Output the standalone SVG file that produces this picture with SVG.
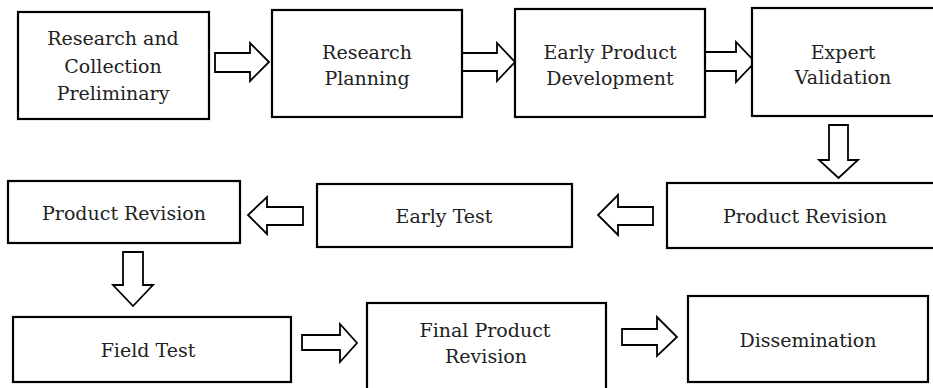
<svg xmlns="http://www.w3.org/2000/svg" width="933" height="388" viewBox="0 0 933 388">
<style>
.box{fill:#fff;stroke:#000;stroke-width:2.2}
.arr{fill:#fff;stroke:#000;stroke-width:1.8;stroke-linejoin:miter}
.t{font-family:'DejaVu Serif','Liberation Serif',serif;font-size:19px;fill:#222;text-anchor:middle}
</style>
<rect width="933" height="388" fill="#fff"/>
<g id="connectors">
<polygon class="arr" points="215,53 250,53 250,43 269,62 250,81 250,72 215,72"/>
<polygon class="arr" points="462,53 497,53 497,43 515,62 497,81 497,71 462,71"/>
<polygon class="arr" points="705,52 736,52 736,42 755,62 736,82 736,71 705,71"/>
<rect x="702" y="52" width="4" height="19" fill="#000"/>
<polygon class="arr" points="829,125 848,125 848,160 858,160 838.5,178 819,160 829,160"/>
<polygon class="arr" points="653,207 618,207 618,195 598,215 618,235 618,225 653,225"/>
<polygon class="arr" points="303,207 267,207 267,197 248,215 267,234 267,225 303,225"/>
<polygon class="arr" points="123,252 143,252 143,285 153,285 133,306 113,285 123,285"/>
<polygon class="arr" points="302,335 340,335 340,324 357,343 340,362 340,350 302,350"/>
<polygon class="arr" points="622,329 657,329 657,317 677,337 657,356 657,345 622,345"/>
</g>
<g class="t">
<g id="n1"><rect class="box" x="18" y="12" width="191" height="107"/>
<text x="113" y="45">Research and</text><text x="113" y="73">Collection</text><text x="113" y="100">Preliminary</text></g>
<g id="n2"><rect class="box" x="272" y="10" width="190" height="107"/>
<text x="367" y="59">Research</text><text x="367" y="85">Planning</text></g>
<g id="n3"><rect class="box" x="515" y="9" width="190" height="108"/>
<text x="610" y="59">Early Product</text><text x="610" y="85">Development</text></g>
<g id="n4"><rect class="box" x="752" y="8" width="190" height="108"/>
<text x="843" y="59">Expert</text><text x="843" y="84">Validation</text></g>
<g id="n5"><rect class="box" x="667" y="183" width="280" height="65"/>
<text x="805" y="223">Product Revision</text></g>
<g id="n6"><rect class="box" x="317" y="184" width="255" height="63"/>
<text x="444" y="223">Early Test</text></g>
<g id="n7"><rect class="box" x="8" y="181" width="232" height="62"/>
<text x="124" y="220">Product Revision</text></g>
<g id="n8"><rect class="box" x="13" y="317" width="278" height="65"/>
<text x="148" y="357">Field Test</text></g>
<g id="n9"><rect class="box" x="367" y="303" width="239" height="95"/>
<text x="485" y="337">Final Product</text><text x="486" y="363">Revision</text></g>
<g id="n10"><rect class="box" x="688" y="296" width="240" height="86"/>
<text x="808" y="347">Dissemination</text></g>
</g>
</svg>
